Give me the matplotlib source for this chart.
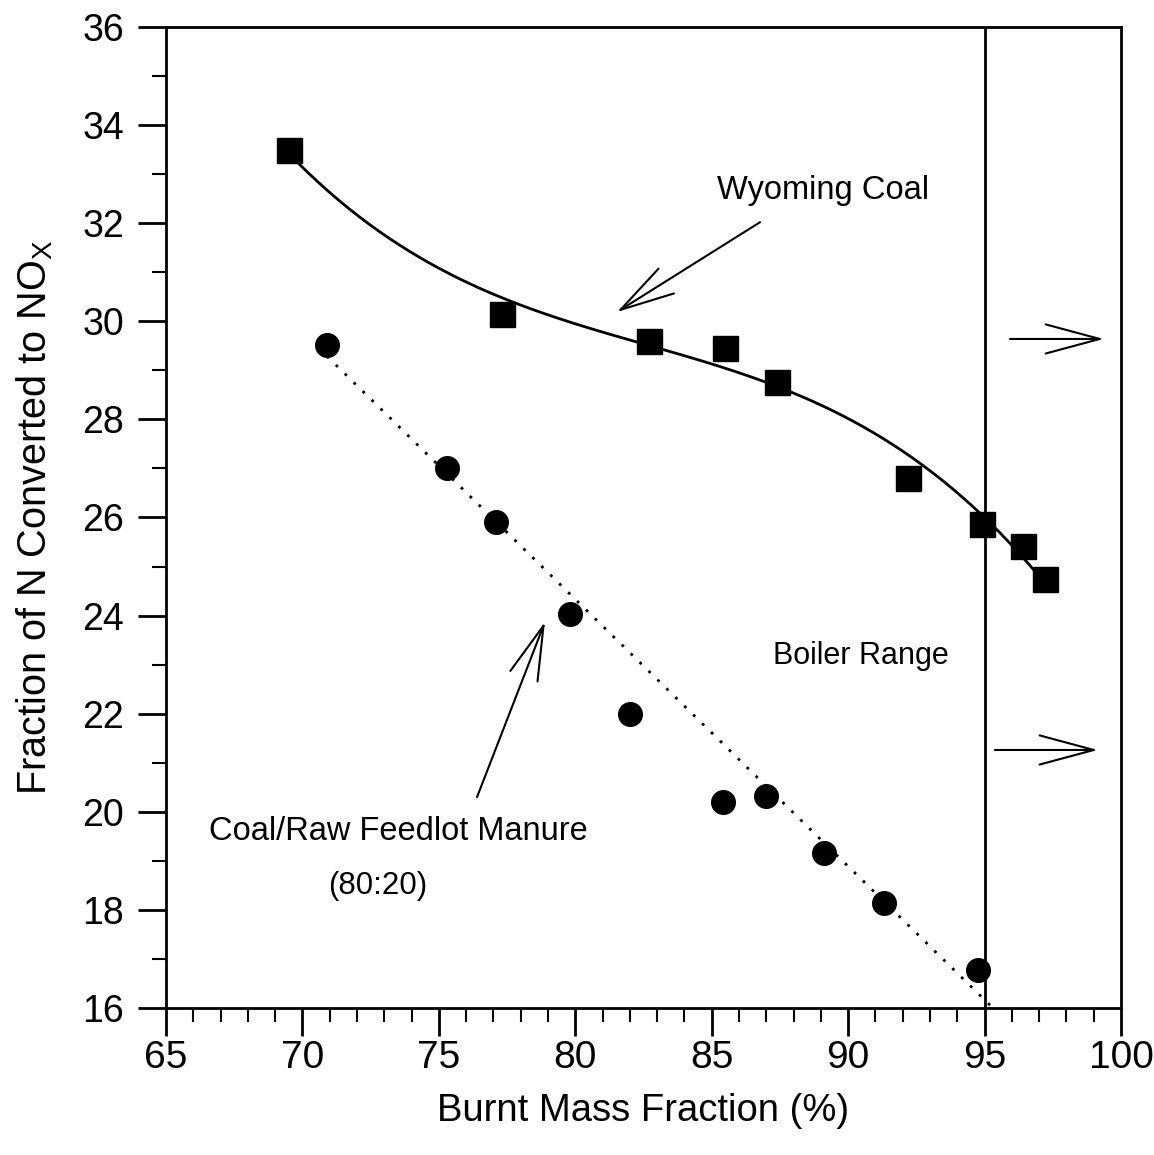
import numpy as np
import matplotlib
matplotlib.use("Agg")
import matplotlib.pyplot as plt
from matplotlib.ticker import MultipleLocator

plt.rcParams['font.family'] = ['Liberation Sans', 'DejaVu Sans']

# Wyoming Coal (squares)
coal_x = [69.5, 77.3, 82.7, 85.5, 87.4, 92.2, 94.9, 96.4, 97.2]
coal_y = [33.5, 30.15, 29.6, 29.45, 28.77, 26.8, 25.87, 25.42, 24.75]

# Coal/Raw Feedlot Manure 80:20 (circles)
man_x = [70.9, 75.3, 77.1, 79.8, 82.0, 85.4, 87.0, 89.1, 91.3, 94.75]
man_y = [29.52, 27.0, 25.9, 24.03, 22.0, 20.2, 20.33, 19.16, 18.14, 16.78]

fig = plt.figure(figsize=(11.54, 11.55), dpi=100)
ax = fig.add_axes([0.1438, 0.1273, 0.8276, 0.8493])

# fitted curve for coal
c = np.polyfit(coal_x, coal_y, 3)
xs = np.linspace(min(coal_x), max(coal_x), 300)
ax.plot(xs, np.polyval(c, xs), color='black', lw=2)

# linear fit for manure
m = np.polyfit(man_x, man_y, 1)
xl = np.linspace(min(man_x), 97, 100)
ax.plot(xl, np.polyval(m, xl) + 0.25, color='black', lw=2, linestyle=(0, (1, 3.5)))

ax.plot(coal_x, coal_y, 's', color='black', markersize=18, zorder=5)
ax.plot(man_x, man_y, 'o', color='black', markersize=17, zorder=5)

ax.axvline(95, color='black', lw=2)

ax.set_xlim(65, 100)
ax.set_ylim(16, 36)
ax.xaxis.set_major_locator(MultipleLocator(5))
ax.xaxis.set_minor_locator(MultipleLocator(1))
ax.yaxis.set_major_locator(MultipleLocator(2))
ax.yaxis.set_minor_locator(MultipleLocator(1))
ax.tick_params(which='major', direction='out', length=20, width=2, labelsize=27)
ax.tick_params(axis='y', which='major', pad=10)
ax.tick_params(axis='x', which='major', pad=3, labelsize=28)
ax.tick_params(which='minor', direction='out', length=10, width=1.5)
ax.tick_params(top=False, right=False)
for s in ax.spines.values():
    s.set_linewidth(2)

ax.set_xlabel('Burnt Mass Fraction (%)', fontsize=27.5, labelpad=12)
ax.set_ylabel('Fraction of N Converted to NO$_\\mathregular{X}$', fontsize=28.5, labelpad=20)

arrow = dict(arrowstyle='->, head_length=1.3, head_width=0.35', lw=1.5, color='black',
             mutation_scale=30, shrinkA=0, shrinkB=0)
ax.text(89.07, 32.66, 'Wyoming Coal', fontsize=23.5, ha='center', va='center')
ax.annotate('', xy=(81.53, 30.19), xytext=(86.77, 32.02), arrowprops=arrow)
ax.text(73.5, 19.59, 'Coal/Raw Feedlot Manure', fontsize=23.5, ha='center', va='center')
ax.text(72.77, 18.49, '(80:20)', fontsize=22.5, ha='center', va='center')
ax.annotate('', xy=(78.89, 23.87), xytext=(76.40, 20.30), arrowprops=arrow)
ax.text(90.47, 23.18, 'Boiler Range', fontsize=22, ha='center', va='center')
ax.annotate('', xy=(99.37, 29.64), xytext=(95.93, 29.64), arrowprops=arrow)
ax.annotate('', xy=(99.15, 21.26), xytext=(95.38, 21.26), arrowprops=arrow)

fig.savefig('out.png', dpi=100)
